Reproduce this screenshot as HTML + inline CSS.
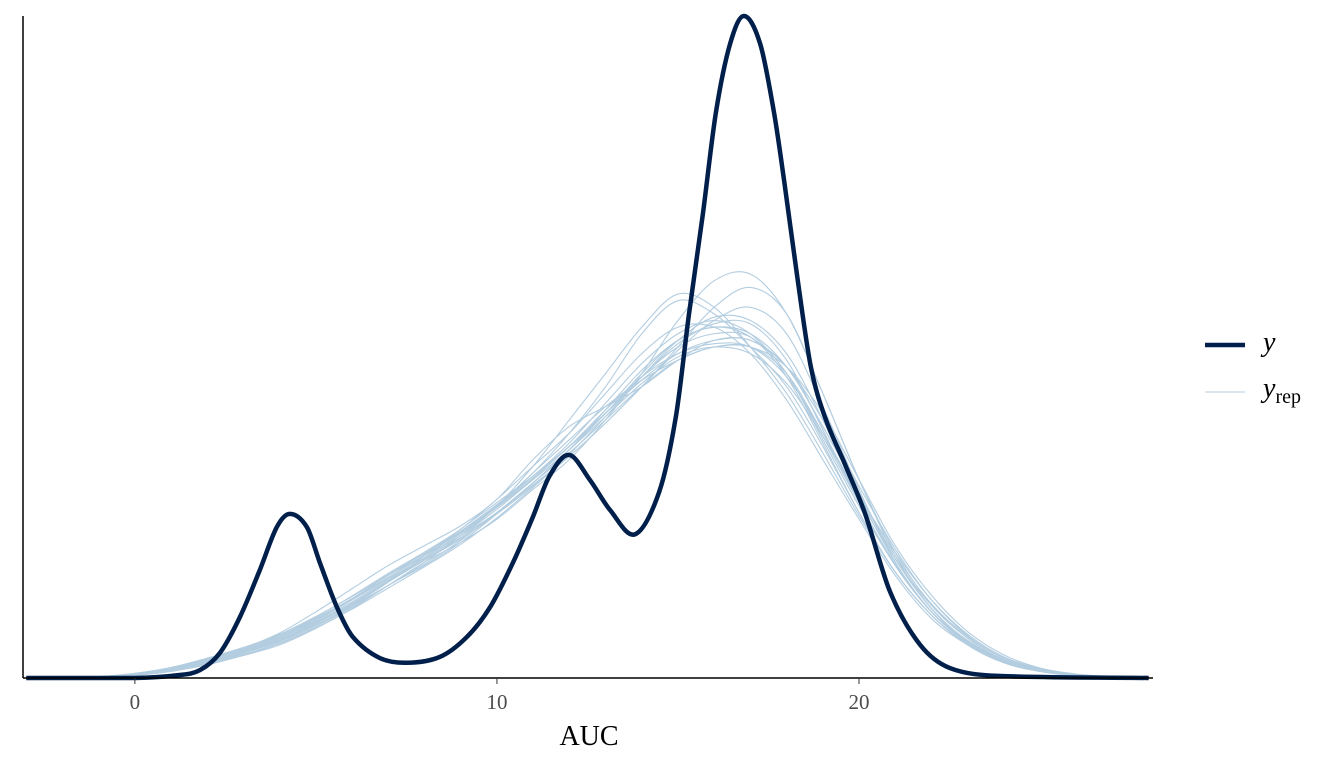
<!DOCTYPE html>
<html><head><meta charset="utf-8">
<style>
html,body{margin:0;padding:0;background:#fff;}
svg{display:block;}
</style></head>
<body>
<svg id="chart" width="1344" height="768" viewBox="0 0 1344 768" xmlns="http://www.w3.org/2000/svg">
  <g id="reps"></g>
  <g id="obs"></g>
  <line x1="23" y1="16" x2="23" y2="678" stroke="#000" stroke-width="1.5"/>
  <line x1="23" y1="678" x2="1153" y2="678" stroke="#000" stroke-width="1.5"/>
  <g id="ticks"></g>
  <text x="589" y="745" text-anchor="middle" font-family="Liberation Serif, serif" font-size="28" fill="#000">AUC</text>
  <g>
    <line x1="1205" y1="345" x2="1245" y2="345" stroke="#011f4b" stroke-width="4.5"/>
    <text x="1263" y="351" font-family="Liberation Serif, serif" font-style="italic" font-size="28" fill="#000">y</text>
    <line x1="1205" y1="392" x2="1245" y2="392" stroke="#b3cde0" stroke-width="1"/>
    <text x="1263" y="397" font-family="Liberation Serif, serif" font-size="28" fill="#000"><tspan font-style="italic">y</tspan><tspan font-size="20" dy="6">rep</tspan></text>
  </g>
</svg>
<script>
const xTicks = [0, 10, 20];
const yX = [-3,0,1.24,1.80,2.35,2.90,3.45,3.92,4.28,4.75,5.11,5.58,6.02,6.77,7.51,8.43,9.17,9.81,10.44,10.99,11.45,11.99,12.57,13.12,13.81,14.48,14.94,15.30,15.69,16.05,16.44,16.82,17.27,17.65,17.93,18.31,18.67,19.06,19.61,20.17,20.86,21.69,22.51,23.9,28];
const yVals = [0,0,0.0045,0.012,0.038,0.092,0.163,0.228,0.248,0.228,0.174,0.107,0.062,0.03,0.023,0.032,0.062,0.107,0.174,0.243,0.305,0.337,0.299,0.254,0.217,0.281,0.394,0.548,0.702,0.855,0.958,1.0,0.958,0.855,0.752,0.6,0.47,0.394,0.323,0.248,0.13,0.05,0.015,0.003,0];
const repX = [-3,-2,-1,0,1,2,3,4,5,6,7,8,9,10,11,12,13,14,15,16,17,18,19,20,21,22,23,24,25,26,27,28];
const rep1 = [0,0,0.001,0.005,0.012,0.025,0.04,0.058,0.085,0.115,0.148,0.18,0.215,0.255,0.3,0.345,0.4,0.455,0.5,0.52,0.515,0.46,0.36,0.26,0.17,0.1,0.057,0.027,0.012,0.005,0.001,0];
const rep2 = [0,0,0.001,0.006,0.014,0.028,0.045,0.065,0.09,0.12,0.155,0.19,0.225,0.27,0.32,0.37,0.43,0.49,0.53,0.53,0.49,0.42,0.33,0.24,0.155,0.09,0.05,0.024,0.01,0.004,0.001,0];
const rep3 = [0,0,0.001,0.004,0.01,0.02,0.034,0.05,0.075,0.105,0.14,0.175,0.205,0.24,0.285,0.33,0.39,0.46,0.54,0.6,0.61,0.55,0.43,0.3,0.19,0.11,0.06,0.028,0.012,0.004,0.001,0];
const rep4 = [0,0,0.002,0.007,0.016,0.03,0.046,0.062,0.085,0.11,0.14,0.175,0.215,0.26,0.31,0.36,0.41,0.45,0.48,0.5,0.5,0.46,0.37,0.27,0.18,0.11,0.063,0.03,0.013,0.005,0.001,0];
const rep5 = [0,0,0.001,0.004,0.011,0.022,0.038,0.056,0.08,0.11,0.145,0.185,0.225,0.265,0.305,0.35,0.4,0.46,0.51,0.53,0.52,0.47,0.38,0.28,0.18,0.105,0.055,0.025,0.01,0.003,0.001,0];
const rep6 = [0,0,0.001,0.005,0.013,0.026,0.042,0.062,0.09,0.12,0.152,0.185,0.22,0.26,0.31,0.37,0.44,0.52,0.57,0.55,0.5,0.44,0.35,0.25,0.16,0.095,0.05,0.023,0.01,0.004,0.001,0];
const rep7 = [0,0,0.001,0.005,0.012,0.024,0.038,0.055,0.08,0.108,0.14,0.172,0.208,0.25,0.295,0.34,0.39,0.44,0.48,0.5,0.5,0.47,0.4,0.3,0.2,0.125,0.07,0.035,0.015,0.006,0.002,0];
const rep8 = [0,0,0.001,0.006,0.013,0.026,0.041,0.06,0.088,0.12,0.155,0.185,0.215,0.25,0.295,0.345,0.405,0.465,0.51,0.53,0.515,0.455,0.355,0.25,0.16,0.095,0.052,0.024,0.01,0.004,0.001,0];
const rep9 = [0,0,0.001,0.004,0.01,0.022,0.036,0.053,0.078,0.107,0.14,0.17,0.205,0.248,0.295,0.345,0.4,0.455,0.505,0.535,0.535,0.48,0.375,0.265,0.17,0.1,0.055,0.026,0.011,0.004,0.001,0];
const rep10 = [0,0,0.002,0.006,0.014,0.027,0.043,0.062,0.088,0.118,0.15,0.182,0.218,0.258,0.302,0.35,0.405,0.455,0.49,0.505,0.5,0.455,0.37,0.275,0.185,0.112,0.062,0.03,0.013,0.005,0.001,0];
const rep11 = [0,0,0.001,0.005,0.012,0.025,0.04,0.058,0.083,0.112,0.145,0.178,0.212,0.25,0.292,0.335,0.385,0.44,0.495,0.54,0.56,0.52,0.41,0.285,0.175,0.1,0.053,0.024,0.01,0.004,0.001,0];
const rep12 = [0,0,0.001,0.005,0.013,0.027,0.044,0.064,0.092,0.124,0.158,0.19,0.222,0.26,0.305,0.355,0.415,0.475,0.52,0.54,0.52,0.46,0.365,0.265,0.172,0.1,0.054,0.025,0.011,0.004,0.001,0];
const rep13 = [0,0,0.001,0.005,0.013,0.027,0.045,0.068,0.1,0.135,0.17,0.2,0.23,0.27,0.33,0.38,0.41,0.44,0.48,0.51,0.51,0.47,0.38,0.28,0.18,0.105,0.056,0.026,0.011,0.004,0.001,0];
const rep14 = [0,0,0.001,0.004,0.011,0.023,0.038,0.056,0.082,0.112,0.146,0.18,0.215,0.26,0.32,0.39,0.46,0.53,0.58,0.56,0.5,0.43,0.34,0.245,0.16,0.095,0.05,0.023,0.01,0.004,0.001,0];
const rep15 = [0,0,0.001,0.005,0.012,0.024,0.039,0.057,0.083,0.113,0.146,0.178,0.21,0.248,0.29,0.335,0.385,0.44,0.5,0.56,0.59,0.55,0.43,0.3,0.185,0.105,0.056,0.026,0.011,0.004,0.001,0];
const rep16 = [0,0,0.002,0.007,0.015,0.029,0.046,0.066,0.093,0.123,0.156,0.188,0.22,0.258,0.3,0.345,0.395,0.445,0.485,0.5,0.49,0.445,0.365,0.275,0.19,0.118,0.066,0.032,0.014,0.005,0.001,0];
const rep17 = [0,0,0.001,0.005,0.012,0.025,0.041,0.06,0.087,0.118,0.152,0.186,0.222,0.262,0.305,0.35,0.4,0.45,0.49,0.51,0.51,0.47,0.39,0.29,0.195,0.118,0.064,0.03,0.013,0.005,0.001,0];
const rep18 = [0,0,0.001,0.004,0.01,0.021,0.035,0.052,0.076,0.104,0.136,0.168,0.202,0.242,0.288,0.338,0.395,0.455,0.51,0.545,0.54,0.49,0.39,0.275,0.175,0.1,0.053,0.024,0.01,0.004,0.001,0];
const reps = [rep1,rep2,rep3,rep4,rep5,rep6,rep7,rep8,rep9,rep10,rep11,rep12,rep13,rep14,rep15,rep16,rep17,rep18];

const NS = "http://www.w3.org/2000/svg";
const X0 = 23, X1 = 1153, Y0 = 678, Y1 = 16;
const xmin = -3.09, xmax = 28.12, ymax = 1.0;
const sx = v => X0 + (v - xmin) / (xmax - xmin) * (X1 - X0);
const sy = v => Y0 - v / ymax * (Y0 - Y1);

function pathFrom(xs, ys) {
  const p = xs.map((x, i) => [sx(x), sy(ys[i])]);
  const n = p.length;
  const m = p.map((q, i) => {
    const a = p[Math.max(i - 1, 0)], b = p[Math.min(i + 1, n - 1)];
    return (b[1] - a[1]) / (b[0] - a[0]);
  });
  let d = "M" + p[0][0].toFixed(2) + "," + p[0][1].toFixed(2);
  for (let i = 0; i < n - 1; i++) {
    const b = p[i], c = p[i + 1], dx = (c[0] - b[0]) / 3;
    const c1y = Math.min(Y0, b[1] + m[i] * dx), c2y = Math.min(Y0, c[1] - m[i + 1] * dx);
    d += " C" + (b[0] + dx).toFixed(2) + "," + c1y.toFixed(2) + " " + (c[0] - dx).toFixed(2) + "," + c2y.toFixed(2) + " " + c[0].toFixed(2) + "," + c[1].toFixed(2);
  }
  return d;
}

const repG = document.getElementById("reps");
reps.forEach((r, k) => {
  const el = document.createElementNS(NS, "path");
  el.setAttribute("d", pathFrom(repX, r));
  el.setAttribute("fill", "none");
  el.setAttribute("stroke", "#b3cde0");
  el.setAttribute("stroke-width", "1.1");
  
  
  repG.appendChild(el);
});

const obs = document.createElementNS(NS, "path");
obs.setAttribute("d", pathFrom(yX, yVals));
obs.setAttribute("fill", "none");
obs.setAttribute("stroke", "#011f4b");
obs.setAttribute("stroke-width", "4.5");
obs.setAttribute("stroke-linejoin", "round");


document.getElementById("obs").appendChild(obs);

const tg = document.getElementById("ticks");
xTicks.forEach(t => {
  const ln = document.createElementNS(NS, "line");
  ln.setAttribute("x1", sx(t)); ln.setAttribute("x2", sx(t));
  ln.setAttribute("y1", 678); ln.setAttribute("y2", 684);
  ln.setAttribute("stroke", "#333"); ln.setAttribute("stroke-width", "1");
  
  
  tg.appendChild(ln);
  const tx = document.createElementNS(NS, "text");
  tx.setAttribute("x", sx(t)); tx.setAttribute("y", 709);
  tx.setAttribute("text-anchor", "middle");
  tx.setAttribute("font-family", "Liberation Serif, serif");
  tx.setAttribute("font-size", "21");
  tx.setAttribute("fill", "#4d4d4d");
  tx.textContent = t;
  
  
  tg.appendChild(tx);
});
</script>
</body></html>
